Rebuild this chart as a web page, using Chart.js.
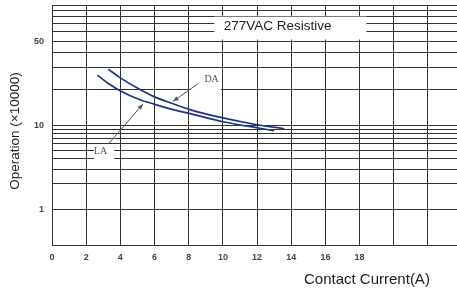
<!DOCTYPE html>
<html>
<head>
<meta charset="utf-8">
<script src="https://cdn.jsdelivr.net/npm/chart.js@4/dist/chart.umd.min.js"></script>
<style>
  html, body { margin: 0; padding: 0; background: #fff; }
  canvas { display: block; }
</style>
</head>
<body>
<canvas id="chart" width="457" height="296"></canvas>
<script>
// values (contact current in A, operations x10000)
const daCurrent = [3.29, 3.98, 5.15, 5.96, 7.08, 8.07, 10.0, 12.0, 13.6];
const daOperations = [29.3, 24.9, 19.8, 17.3, 15.1, 13.5, 11.5, 10.1, 9.08];
const laCurrent = [2.65, 3.39, 3.98, 5.15, 5.96, 7.08, 8.07, 10.0, 12.0, 13.0];
const laOperations = [26.1, 21.8, 19.4, 16.3, 15.0, 13.5, 12.5, 10.7, 9.34, 8.6];

const xGridValues = [0, 2, 4, 6, 8, 10, 12, 14, 16, 18, 20, 22];
const xLabelLimit = 18;
const yGridValues = [1, 2, 3, 4, 5, 6, 7, 8, 9, 10, 20, 30, 40, 50, 60, 70, 80, 90, 100];
const yLabelValues = [1, 10, 50];

const chartTitle = '277VAC Resistive';
const xTitle = 'Contact Current(A)';
const yTitle = 'Operation (×10000)';

// the printed grid does not give every decade the same height,
// so the log axis is bent at each decade to follow it
const decadeKnots = [Math.log10(0.376), 0, 1, 2];
const decadeDecimals = [0, 0.149, 0.499, 1];

const warp = (u) => {
  for (let i = 1; i < decadeKnots.length; i++) {
    if (u <= decadeKnots[i] || i === decadeKnots.length - 1) {
      const t = (u - decadeKnots[i - 1]) / (decadeKnots[i] - decadeKnots[i - 1]);
      return decadeDecimals[i - 1] + t * (decadeDecimals[i] - decadeDecimals[i - 1]);
    }
  }
  return 0;
};

const unwarp = (d) => {
  for (let i = 1; i < decadeDecimals.length; i++) {
    if (d <= decadeDecimals[i] || i === decadeDecimals.length - 1) {
      const t = (d - decadeDecimals[i - 1]) / (decadeDecimals[i] - decadeDecimals[i - 1]);
      return decadeKnots[i - 1] + t * (decadeKnots[i] - decadeKnots[i - 1]);
    }
  }
  return 0;
};

class DecadeLogScale extends Chart.LogarithmicScale {
  static id = 'decadeLog';
  static defaults = Chart.LogarithmicScale.defaults;

  getPixelForValue(value) {
    return this.getPixelForDecimal(warp(Math.log10(value)));
  }

  getValueForPixel(pixel) {
    return Math.pow(10, unwarp(this.getDecimalForPixel(pixel)));
  }
}

Chart.register(DecadeLogScale);

const toPoints = (xs, ys) => xs.map((x, i) => ({ x: x, y: ys[i] }));

const drawArrow = (ctx, x0, y0, x1, y1) => {
  const angle = Math.atan2(y1 - y0, x1 - x0);
  const head = 6;
  ctx.beginPath();
  ctx.moveTo(x0, y0);
  ctx.lineTo(x1, y1);
  ctx.stroke();
  ctx.beginPath();
  ctx.moveTo(x1, y1);
  ctx.lineTo(x1 - head * Math.cos(angle - 0.4), y1 - head * Math.sin(angle - 0.4));
  ctx.lineTo(x1 - head * Math.cos(angle + 0.4), y1 - head * Math.sin(angle + 0.4));
  ctx.closePath();
  ctx.fill();
};

const annotations = {
  id: 'annotations',
  afterDraw(chart) {
    const { ctx, scales } = chart;
    const px = (v) => scales.x.getPixelForValue(v);
    const py = (v) => scales.y.getPixelForValue(v);

    ctx.save();

    // white patches that break the grid behind the labels
    ctx.fillStyle = '#fff';
    ctx.fillRect(px(9.5), py(80), px(18.4) - px(9.5), py(51.6) - py(80));
    ctx.fillRect(px(8.13), py(28.4), px(9.88) - px(8.13), py(19.4) - py(28.4));
    ctx.fillRect(px(2.46), py(5.85), px(3.63) - px(2.46), py(3.57) - py(5.85));

    ctx.fillStyle = '#1e1e1e';
    ctx.font = '13.5px "Liberation Sans", Arial, sans-serif';
    ctx.textAlign = 'left';
    ctx.textBaseline = 'middle';
    ctx.fillText(chartTitle, px(10.05), py(66.2));

    ctx.font = '10px "Liberation Serif", "Times New Roman", serif';
    ctx.fillStyle = '#555';
    ctx.textAlign = 'center';
    ctx.fillText('DA', px(9.34), py(23.9));
    ctx.fillText('LA', px(2.84), py(4.83));

    ctx.strokeStyle = '#555';
    ctx.lineWidth = 1;
    drawArrow(ctx, px(8.55), py(22.2), px(7.09), py(15.8));
    drawArrow(ctx, px(3.35), py(6.13), px(5.32), py(15.0));

    ctx.fillStyle = '#222';
    ctx.font = '15px "Liberation Sans", Arial, sans-serif';
    ctx.textAlign = 'left';
    ctx.fillText(xTitle, 304, 280);

    ctx.translate(15, 131);
    ctx.rotate(-Math.PI / 2);
    ctx.font = '13.5px "Liberation Sans", Arial, sans-serif';
    ctx.textAlign = 'center';
    ctx.fillText(yTitle, 0, 0);

    ctx.restore();
  },
};

const gridColor = '#333';
const tickFont = { family: '"Liberation Sans", Arial, sans-serif', size: 9, weight: 'bold' };

new Chart(document.querySelector('#chart'), {
  type: 'line',
  data: {
    datasets: [
      {
        label: 'DA',
        data: toPoints(daCurrent, daOperations),
        borderColor: '#1f3485',
        borderWidth: 1.7,
        pointRadius: 0,
        cubicInterpolationMode: 'monotone',
      },
      {
        label: 'LA',
        data: toPoints(laCurrent, laOperations),
        borderColor: '#1f3485',
        borderWidth: 1.7,
        pointRadius: 0,
        cubicInterpolationMode: 'monotone',
      },
    ],
  },
  options: {
    responsive: false,
    animation: false,
    devicePixelRatio: 1,
    layout: { padding: { top: 5, right: 0, bottom: 0, left: 0 } },
    plugins: {
      legend: { display: false },
      tooltip: { enabled: false },
    },
    scales: {
      x: {
        type: 'linear',
        min: 0,
        max: 23.7,
        afterBuildTicks: (scale) => {
          scale.ticks = xGridValues.map((value) => ({ value: value }));
        },
        afterFit: (scale) => {
          scale.height = 51;
          scale.paddingLeft = 0;
          scale.paddingRight = 0;
        },
        grid: { color: gridColor, lineWidth: 1, drawTicks: false },
        border: { color: gridColor, width: 1 },
        ticks: {
          autoSkip: false,
          maxRotation: 0,
          padding: 7,
          color: '#444',
          font: tickFont,
          callback: (value) => (value <= xLabelLimit ? String(value) : ''),
        },
      },
      y: {
        type: 'decadeLog',
        min: 0.376,
        max: 100,
        afterBuildTicks: (scale) => {
          scale.ticks = yGridValues.map((value) => ({ value: value }));
        },
        afterFit: (scale) => {
          scale.width = 52;
          scale.paddingTop = 0;
          scale.paddingBottom = 0;
        },
        grid: { color: gridColor, lineWidth: 1, drawTicks: false },
        border: { color: gridColor, width: 1 },
        ticks: {
          autoSkip: false,
          padding: 8,
          color: '#444',
          font: tickFont,
          callback: (value) => (yLabelValues.includes(value) ? String(value) : ''),
        },
      },
    },
  },
  plugins: [annotations],
});
</script>
</body>
</html>
